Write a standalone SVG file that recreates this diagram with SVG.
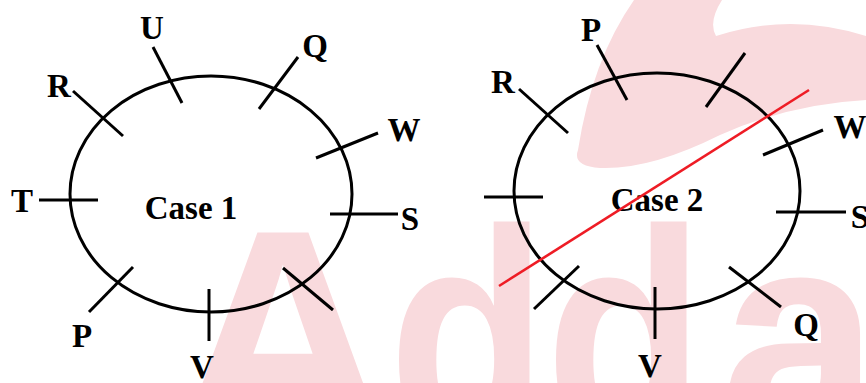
<svg xmlns="http://www.w3.org/2000/svg" width="866" height="383" viewBox="0 0 866 383">
<style>
.wm{fill:#f9dadd;font-family:"Liberation Sans",Arial,sans-serif;font-weight:bold;font-size:300px;text-anchor:middle}
.ring{fill:none;stroke:#000;stroke-width:3}
.tick{stroke:#000;stroke-width:3;stroke-linecap:butt}
.lbl{font-family:"Liberation Serif","Times New Roman",serif;font-weight:bold;font-size:33px;fill:#000;text-anchor:middle}
.cut{stroke:#ee1c25;stroke-width:2.6}
</style>
<rect width="866" height="383" fill="#fff"/>
<g id="watermark">
<path d="M578,150 Q592,60 634,0 L722,0 Q708,22 716,36 Q790,12 866,36 L866,100 Q790,104 720,135 Q650,170 600,168 Q572,166 578,150 Z" fill="#f9dadd"/>
<text class="wm" x="283" y="439">A</text>
<text class="wm" transform="translate(468,439) scale(0.87,1)">d</text>
<text class="wm" transform="translate(625,439) scale(0.87,1)">d</text>
<text class="wm" transform="translate(800,439) scale(0.95,1)">a</text>
</g>
<g id="case1">
<ellipse class="ring" cx="211" cy="194" rx="141" ry="118"/>
<g id="c1-ticks">
<line class="tick" x1="153" y1="47" x2="182" y2="103"/>
<line class="tick" x1="298" y1="57" x2="259" y2="109"/>
<line class="tick" x1="73" y1="91" x2="123" y2="136"/>
<line class="tick" x1="378" y1="133" x2="316" y2="158"/>
<line class="tick" x1="39" y1="200" x2="98" y2="200"/>
<line class="tick" x1="330" y1="214" x2="398" y2="214"/>
<line class="tick" x1="133" y1="267" x2="89" y2="312"/>
<line class="tick" x1="209" y1="289" x2="209" y2="341"/>
<line class="tick" x1="283" y1="268" x2="333" y2="310"/>
</g>
<g id="c1-labels">
<text class="lbl" x="152" y="39">U</text>
<text class="lbl" x="315" y="57">Q</text>
<text class="lbl" x="59" y="97">R</text>
<text class="lbl" x="404" y="141">W</text>
<text class="lbl" x="22" y="212">T</text>
<text class="lbl" x="410" y="230">S</text>
<text class="lbl" x="82" y="347">P</text>
<text class="lbl" x="202" y="378">V</text>
<text class="lbl" x="191" y="219">Case 1</text>
</g>
</g>
<g id="case2">
<ellipse class="ring" cx="657" cy="191" rx="143" ry="118"/>
<g id="c2-ticks">
<line class="tick" x1="597" y1="45" x2="627" y2="100"/>
<line class="tick" x1="745" y1="53" x2="706" y2="107"/>
<line class="tick" x1="519" y1="89" x2="568" y2="133"/>
<line class="tick" x1="823" y1="130" x2="763" y2="155"/>
<line class="tick" x1="484" y1="197" x2="543" y2="197"/>
<line class="tick" x1="776" y1="212" x2="846" y2="212"/>
<line class="tick" x1="579" y1="266" x2="534" y2="309"/>
<line class="tick" x1="655" y1="287" x2="655" y2="339"/>
<line class="tick" x1="729" y1="267" x2="781" y2="307"/>
</g>
<g id="c2-labels">
<text class="lbl" x="591" y="41">P</text>
<text class="lbl" x="503" y="93">R</text>
<text class="lbl" x="850" y="138">W</text>
<text class="lbl" x="860" y="228">S</text>
<text class="lbl" x="806" y="336">Q</text>
<text class="lbl" x="650" y="377">V</text>
<text class="lbl" x="657" y="211">Case 2</text>
</g>
<line id="c2-cut" class="cut" x1="499" y1="286" x2="809" y2="90"/>
</g>
</svg>
